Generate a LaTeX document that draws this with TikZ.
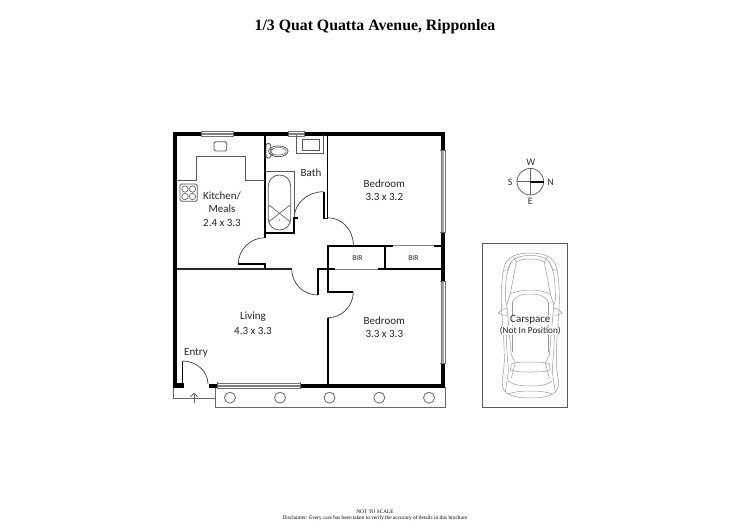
\documentclass[tikz,border=0pt]{standalone}
\usepackage{fontspec}
\setmainfont{Carlito}
\newfontfamily\serifx{Liberation Serif}
\usetikzlibrary{arrows.meta}
\tikzset{
  wall/.style={line width=4pt,black,line cap=butt},
  iwall/.style={line width=1.7pt,black,line cap=butt,line join=miter},
  swing/.style={line width=0.7pt,black!75},
  fixture/.style={line width=0.8pt,black!65},
  paving/.style={line width=0.8pt,black!60},
  carline/.style={line width=0.5pt,black!40},
  room/.style={font=\fontsize{11}{12}\selectfont,text=black!85,inner sep=0pt},
  small/.style={font=\fontsize{7.5}{9}\selectfont,text=black!85,inner sep=0pt},
  compassletter/.style={font=\fontsize{10}{11}\selectfont,text=black!80,inner sep=0pt},
  windowbox/.style={line width=0.6pt,black!55,fill=white}
}
\newcommand{\hwin}[3]{% x0,x1,y
  \draw[windowbox] (#1,#3-2.2) rectangle (#2,#3+2.2);
  \draw[line width=0.8pt,black!50] (#1,#3-0.4) -- (#2,#3-0.4) (#1,#3+0.8) -- (#2,#3+0.8);
  \draw[line width=0.8pt,black!60] (#1,#3-3.2) -- (#1,#3+3.2) (#2,#3-3.2) -- (#2,#3+3.2);}
\newcommand{\vwin}[3]{% y0,y1,x
  \draw[windowbox] (#3-2.2,#1) rectangle (#3+2.2,#2);
  \draw[line width=1.4pt,black!35] (#3,#1) -- (#3,#2);
  \draw[line width=0.8pt,black!60] (#3-3.2,#1) -- (#3+3.2,#1) (#3-3.2,#2) -- (#3+3.2,#2);}
\begin{document}
\begin{tikzpicture}[x=1pt,y=-1pt]
\useasboundingbox[fill=white] (0,0) rectangle (750,530);

% title
\node[font=\serifx\bfseries\fontsize{15.8}{18}\selectfont,inner sep=0pt] (title) at (375,27) {1/3 Quat Quatta Avenue, Ripponlea};
\node[font=\serifx\fontsize{5.3}{6}\selectfont,inner sep=0pt] (scale) at (375,511.5) {NOT TO SCALE};
\node[font=\serifx\fontsize{5.3}{6}\selectfont,inner sep=0pt] (disc) at (375,518.7) {Disclaimer: Every care has been taken to verify the accuracy of details in this brochure};

% paving and entry
\draw[paving] (173.3,387) -- (173.3,398) -- (215,398);
\draw[paving] (215,387) -- (215,407.3) -- (445,407.3) -- (445,387);
\foreach \cx in {230,280,329.5,379.3,429}
  \draw[paving] (\cx,397.7) circle[radius=5.5];
\draw[paving,-{Straight Barb[length=3.5pt,width=7pt]}] (194,403) -- (194,392.7);

% outer walls
\draw[wall] (175.3,387.7) -- (175.3,133.7) -- (443,133.7) -- (443,150);
\draw[wall] (443,232) -- (443,281);
\draw[wall] (443,363) -- (443,385.6) -- (300,385.6);
\fill (173.3,383) rectangle (183.5,387.7);
\fill (209,383.5) rectangle (218,387.7);
\hwin{201}{233}{133.7}
\hwin{288}{304}{133.7}
\hwin{217.7}{300}{385.6}
\vwin{150}{232}{443}
\vwin{281}{363}{443}

% interior walls
\draw[iwall] (265,135) -- (265,238);
\draw[iwall] (238.3,264) -- (265,264) -- (265,269.5);
\draw[line width=1.3pt,black!85] (177,269) -- (291.7,269);
\draw[iwall] (327.5,135) -- (327.5,218.5) -- (323.7,218.5) -- (323.7,191.7);
\draw[iwall] (294.3,218) -- (297.5,218);
\draw[iwall] (294.3,217) -- (294.3,233) -- (264,233);
\draw[iwall] (353.3,245.7) -- (327.7,245.7) -- (327.7,292) -- (353.3,292);
\draw[iwall] (327.7,317.7) -- (327.7,384);
\draw[iwall] (327.7,245.7) -- (392.7,245.7);
\draw[line width=1pt,black!50] (392.7,245.7) -- (434,245.7);
\draw[iwall] (434,245.7) -- (441,245.7);
\draw[iwall] (317.7,295) -- (317.7,269) -- (335,269);
\draw[line width=1pt,black!50] (335,269) -- (378,269);
\draw[iwall] (378,269) -- (441,269);
\draw[iwall] (385,245.7) -- (385,269);
\draw[iwall] (182.5,384) -- (182.5,361);

% door swings
\draw[swing] (265,237.7) .. controls (250.5,237.7) and (238.3,249.5) .. (238.3,264);
\draw[swing] (291.7,269) .. controls (291.7,283.4) and (303.3,295) .. (317.7,295);
\draw[swing] (353.3,292) .. controls (353.3,306.2) and (341.9,317.7) .. (327.7,317.7);
\draw[swing] (327.5,217.7) .. controls (341.8,217.7) and (353.3,229.5) .. (353.3,245);
\draw[swing] (323.5,191.7) .. controls (307.4,191.7) and (294.3,203.4) .. (294.3,217.7);
\draw[swing] (183,361) .. controls (196.8,361) and (208,371.8) .. (208,384);

% kitchen fixtures
\draw[fixture] (177,180) -- (196.7,180) -- (196.7,156.7) -- (245,156.7) -- (245,180) -- (265,180);
\draw[fixture,rounded corners=1.5pt] (214,141.7) rectangle (226.7,151);
\draw[fixture,rounded corners=1.5pt] (180,184) rectangle (197.3,201.3);
\foreach \hx in {185,192.5} \foreach \hy in {189,196.5}
  \draw[fixture,line width=0.6pt] (\hx,\hy) circle[radius=3.2];

% bath fixtures
\draw[fixture] (296.7,135) -- (296.7,153) -- (323.3,153) -- (323.3,135);
\draw[fixture] (302,139) rectangle (319,150);
\draw[fixture,rounded corners=1.5pt] (266,143.5) rectangle (270.7,158);
\draw[fixture] (270.7,149) -- (273,149) (270.7,154) -- (273,154);
\draw[fixture] (278.3,151.3) ellipse[x radius=9.7,y radius=5.4];
\draw[fixture,line width=0.5pt] (278.5,151.3) ellipse[x radius=7.6,y radius=3.8];
\draw[fixture] (265,171.7) -- (294,171.7) -- (294,217);
\draw[fixture,rounded corners=11pt] (268.3,175) rectangle (290.7,230);
\draw[fixture,line width=0.6pt] (269,205) -- (290,221.7) (290,205) -- (269,221.7);
\fill[black!70] (279.4,220) circle[radius=0.6];

% compass
\draw[line width=0.8pt,black!60] (530.3,181.7) circle[radius=13.3];
\draw[line width=0.8pt,black!60] (530.3,168.4) -- (530.3,195) (517,181.7) -- (530.3,181.7);
\draw[line width=1.6pt,black] (530.3,181.7) -- (543.6,181.7);
\node[compassletter] (w) at (530.7,162) {W};
\node[compassletter] (s) at (510.2,182) {S};
\node[compassletter] (n) at (550.5,182) {N};
\node[compassletter] (e) at (530.3,201.5) {E};

% carspace
\draw[line width=0.9pt,black!65] (482.5,243.3) rectangle (567.7,407);
\begin{scope}[shift={(530.3,0)}]
\foreach \s in {1,-1}{
\begin{scope}[xscale=\s]
  % body
  \draw[carline] (0,253) .. controls (12,253) and (20,256) .. (24,262) .. controls (27,267) and (29,280) .. (29,300)
     .. controls (29,315) and (26,335) .. (26,360) .. controls (26,372) and (29,380) .. (28,386) .. controls (27,393) and (20,398) .. (0,398);
  % inner hood edge
  \draw[carline] (0,255.5) .. controls (10,255.5) and (16,258) .. (19,262) .. controls (24,272) and (25,280) .. (25,300) -- (23.5,305);
  \draw[carline] (17,257) -- (14,262) .. controls (10,259.5) and (5,259) .. (0,259);
  \draw[carline] (19,262) -- (23,270) -- (27,270);
  % A pillar
  \draw[carline] (14,262) -- (20,294) -- (23.5,305);
  % windscreen
  \draw[carline] (0,290) .. controls (9,290) and (15,292) .. (20,294);
  \draw[carline] (0,294) .. controls (9,294) and (15,296) .. (18,302);
  % side door and roof
  \draw[carline] (23.5,305) -- (19,355) -- (15,363) -- (19,378);
  \draw[carline] (18,302) -- (18,352);
  \draw[carline] (23,308) -- (27,309) -- (32,313) -- (27,315) -- (23,315);
  \draw[carline] (24,335) .. controls (24,350) and (22,365) .. (22,372) -- (25,392);
  % rear window
  \draw[carline] (0,362) .. controls (8,362) and (14,362) .. (19,364);
  \draw[carline] (0,372) .. controls (8,372) and (15,372) .. (20,370) -- (19,364);
  % trunk
  \draw[carline] (0,386) .. controls (9,386) and (17,385) .. (22,381);
  \draw[carline] (0,391) .. controls (10,391) and (17,392) .. (22,394);
\end{scope}}
\end{scope}
\node[room,fill=white,fill opacity=0.8,text opacity=1,inner sep=0.5pt] (car1) at (530.3,320.3) {Carspace};
\node[room,fill=white,fill opacity=0.8,text opacity=1,inner sep=0.5pt,font=\fontsize{9.2}{10}\selectfont] (car2) at (530.3,330.8) {(Not In Position)};

% labels
\node[room] (bath) at (311,172.5) {Bath};
\node[room] (bed1) at (384.3,183.3) {Bedroom};
\node[room] (bed1d) at (384.3,197) {3.3 x 3.2};
\node[room] (kit1) at (222,196) {Kitchen/};
\node[room] (kit2) at (222,209) {Meals};
\node[room] (kit3) at (222,222.5) {2.4 x 3.3};
\node[room] (liv) at (253,317) {Living};
\node[room] (livd) at (253,330.5) {4.3 x 3.3};
\node[room] (entry) at (196,353) {Entry};
\node[room] (bed2) at (384.3,320.5) {Bedroom};
\node[room] (bed2d) at (384.3,333.5) {3.3 x 3.3};
\node[small] (bir1) at (357.3,257.7) {BIR};
\node[small] (bir2) at (413.3,257.7) {BIR};
\end{tikzpicture}
\end{document}
